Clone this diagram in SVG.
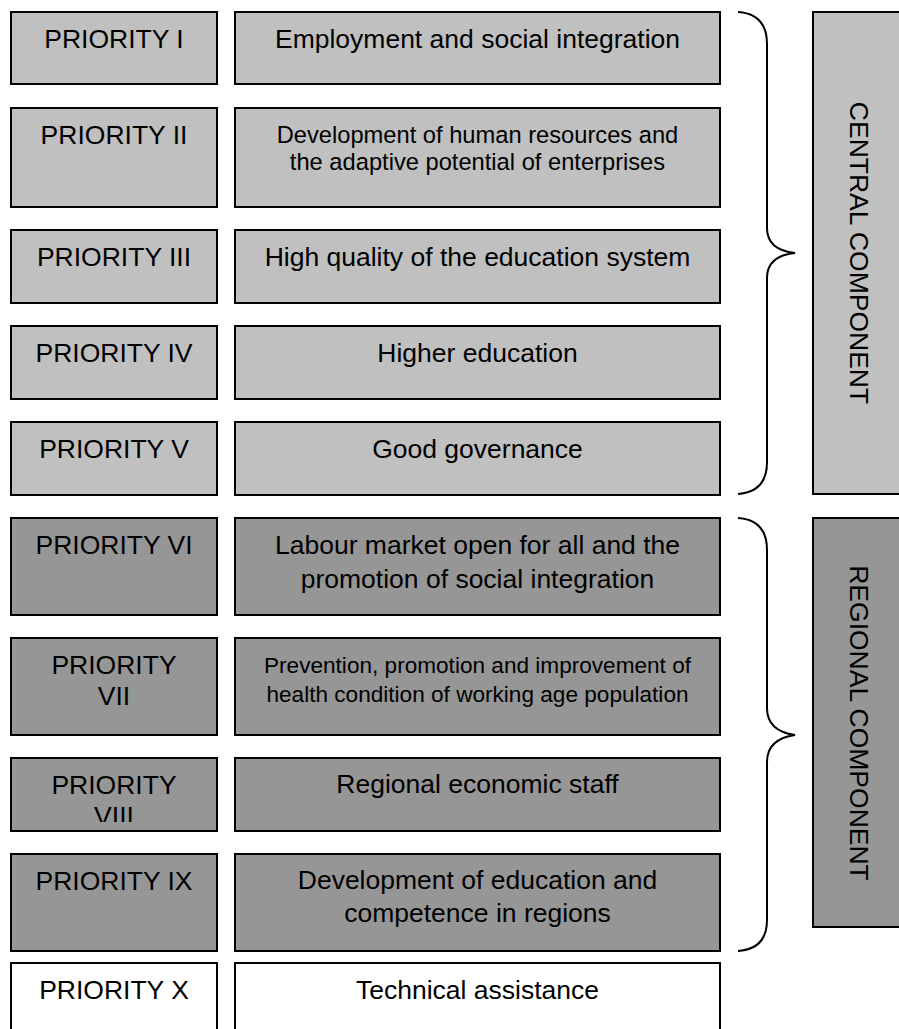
<svg xmlns="http://www.w3.org/2000/svg" width="899" height="1029" viewBox="0 0 899 1029">
<style>
.lt{fill:#c0c0c0;stroke:#000;stroke-width:2}
.dk{fill:#969696;stroke:#000;stroke-width:2}
.wh{fill:#fff;stroke:#000;stroke-width:2}
text{font-family:"Liberation Sans",Arial,sans-serif;fill:#000;text-anchor:middle}
.t{font-size:26.5px}
.br{fill:none;stroke:#000;stroke-width:2}
</style>
<defs>
<clipPath id="clip8"><rect x="11" y="758" width="206" height="64"/></clipPath>
</defs>
<rect width="899" height="1029" fill="#fff"/>

<g id="p1"><rect class="lt" x="11" y="12" width="206" height="72"/><text class="t" x="114" y="48">PRIORITY I</text></g>
<g id="d1"><rect class="lt" x="235" y="12" width="485" height="72"/><text class="t" x="477.5" y="48">Employment and social integration</text></g>

<g id="p2"><rect class="lt" x="11" y="108" width="206" height="99"/><text class="t" x="114" y="144">PRIORITY II</text></g>
<g id="d2"><rect class="lt" x="235" y="108" width="485" height="99"/><text x="477.5" y="143" font-size="23.7px">Development of human resources and</text><text x="477.5" y="170" font-size="23.7px">the adaptive potential of enterprises</text></g>

<g id="p3"><rect class="lt" x="11" y="230" width="206" height="73"/><text class="t" x="114" y="266">PRIORITY III</text></g>
<g id="d3"><rect class="lt" x="235" y="230" width="485" height="73"/><text class="t" x="477.5" y="266">High quality of the education system</text></g>

<g id="p4"><rect class="lt" x="11" y="326" width="206" height="73"/><text class="t" x="114" y="362">PRIORITY IV</text></g>
<g id="d4"><rect class="lt" x="235" y="326" width="485" height="73"/><text class="t" x="477.5" y="362">Higher education</text></g>

<g id="p5"><rect class="lt" x="11" y="422" width="206" height="73"/><text class="t" x="114" y="458">PRIORITY V</text></g>
<g id="d5"><rect class="lt" x="235" y="422" width="485" height="73"/><text class="t" x="477.5" y="458">Good governance</text></g>

<g id="p6"><rect class="dk" x="11" y="518" width="206" height="97"/><text class="t" x="114" y="554">PRIORITY VI</text></g>
<g id="d6"><rect class="dk" x="235" y="518" width="485" height="97"/><text class="t" x="477.5" y="554">Labour market open for all and the</text><text class="t" x="477.5" y="588">promotion of social integration</text></g>

<g id="p7"><rect class="dk" x="11" y="638" width="206" height="97"/><text class="t" x="114" y="674">PRIORITY</text><text class="t" x="114" y="705">VII</text></g>
<g id="d7"><rect class="dk" x="235" y="638" width="485" height="97"/><text x="477.5" y="673" font-size="22.6px">Prevention, promotion and improvement of</text><text x="477.5" y="702" font-size="22.6px">health condition of working age population</text></g>

<g id="p8"><rect class="dk" x="11" y="758" width="206" height="73"/><text class="t" x="114" y="794">PRIORITY</text><text class="t" x="114" y="825" clip-path="url(#clip8)">VIII</text></g>
<g id="d8"><rect class="dk" x="235" y="758" width="485" height="73"/><text class="t" x="477.5" y="793">Regional economic staff</text></g>

<g id="p9"><rect class="dk" x="11" y="854" width="206" height="97"/><text class="t" x="114" y="890">PRIORITY IX</text></g>
<g id="d9"><rect class="dk" x="235" y="854" width="485" height="97"/><text class="t" x="477.5" y="889">Development of education and</text><text class="t" x="477.5" y="922">competence in regions</text></g>

<g id="p10"><rect class="wh" x="11" y="963" width="206" height="90"/><text class="t" x="114" y="999">PRIORITY X</text></g>
<g id="d10"><rect class="wh" x="235" y="963" width="485" height="90"/><text class="t" x="477.5" y="999">Technical assistance</text></g>

<g id="central"><rect class="lt" x="813" y="12" width="100" height="482"/><text class="t" transform="translate(850,253) rotate(90)">CENTRAL COMPONENT</text></g>
<g id="regional"><rect class="dk" x="813" y="518" width="100" height="409"/><text class="t" transform="translate(850,723) rotate(90)">REGIONAL COMPONENT</text></g>

<g id="connectors">
<path class="br" d="M738,12 Q767,14 767,44 L767,228 Q767,250 795,253 Q767,256 767,278 L767,462 Q767,492 738,494"/>
<path class="br" d="M738,518 Q767,520 767,550 L767,708 Q767,731 795,735 Q767,739 767,762 L767,920 Q767,949 738,951"/>
</g>
</svg>
